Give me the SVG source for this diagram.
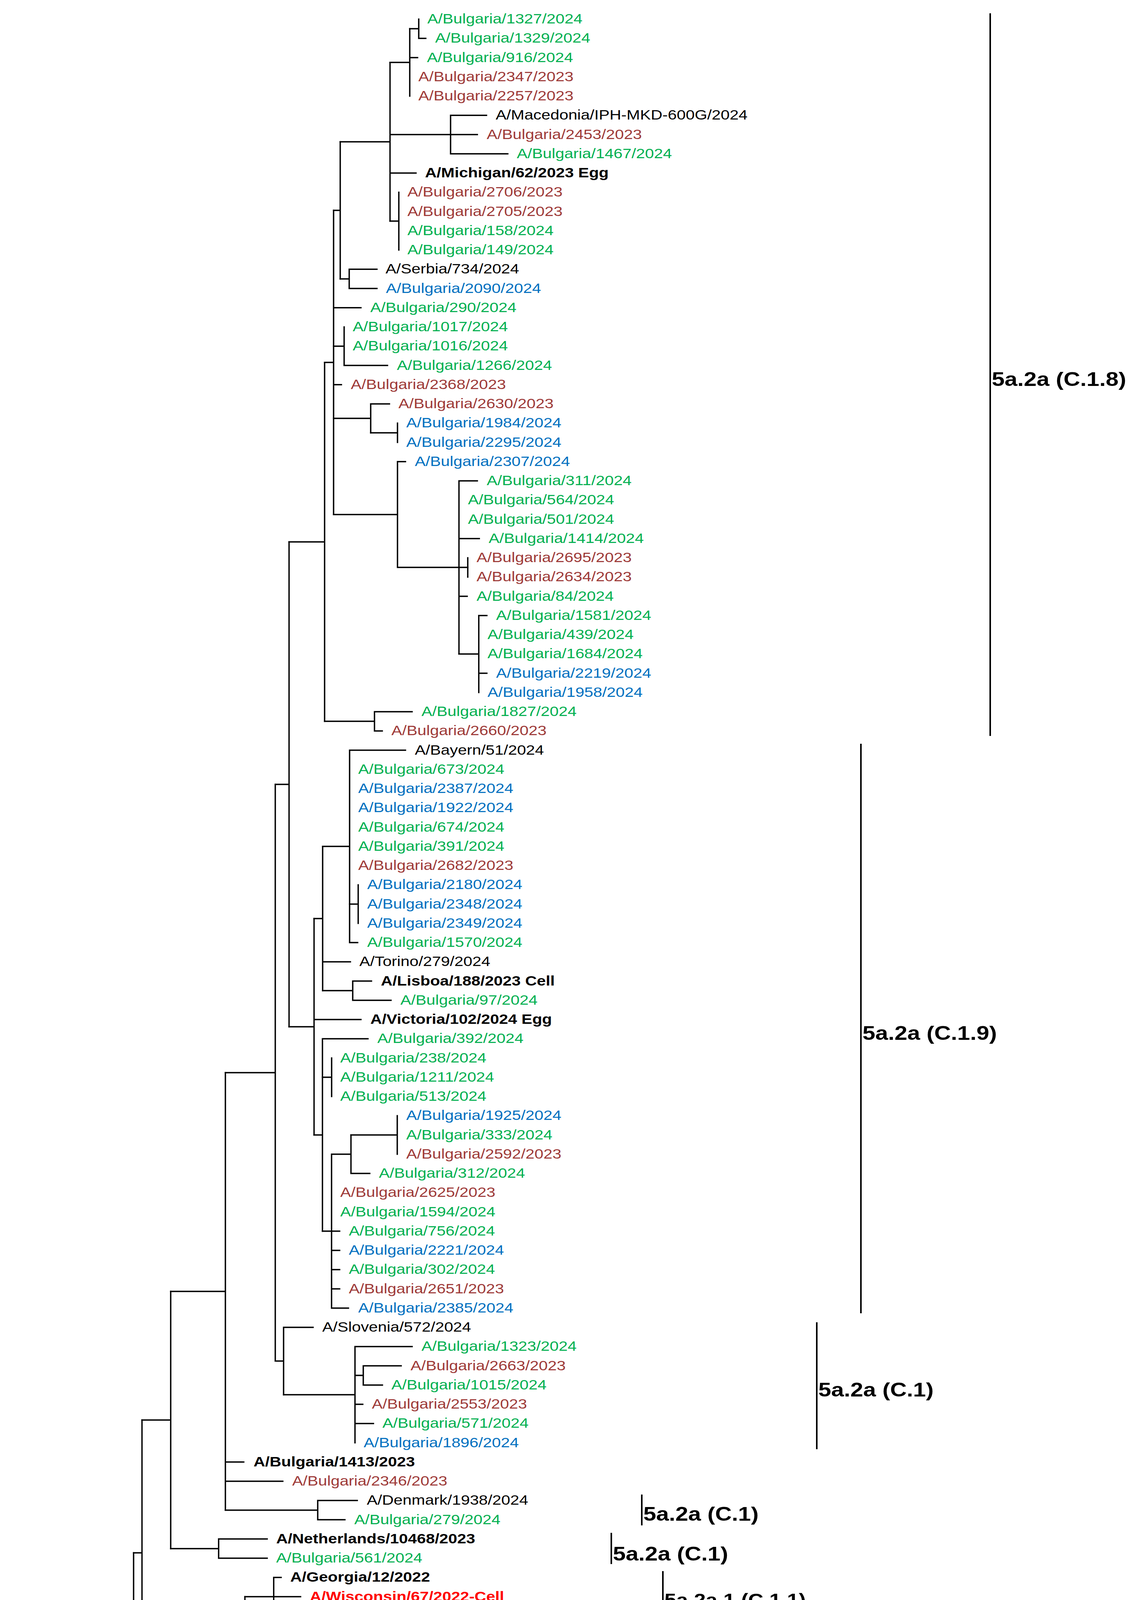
<svg xmlns="http://www.w3.org/2000/svg" width="2898" height="5612" viewBox="0 0 2898 5612">
<style>
.e{stroke:#000;stroke-width:3.5;fill:none;stroke-linecap:square}
.br{stroke:#000;stroke-width:4;fill:none}
.t{font-family:"Liberation Sans",Arial,sans-serif;font-size:35px}
.b{font-weight:bold}
.g{fill:#00B050}.r{fill:#9E3A38}.u{fill:#0070C0}.k{fill:#000}.x{fill:#FF0000}
.cl{font-family:"Liberation Sans",Arial,sans-serif;font-weight:bold;fill:#000;font-size:50px}
.cs{font-size:46px}
</style>
<rect width="2898" height="5612" fill="#fff"/>
<g id="connectors" class="e">
<path d="M1072 49V98.3M1072 98.3H1090M1049 73.6H1072"/>
<path d="M1049 73.6V246M1049 147.5H1069M998.5 159.8H1049"/>
<path d="M1153.5 295.3V393.8M1153.5 295.3H1245.5M1153.5 393.8H1300"/>
<path d="M1021 492.3V640M998.5 566.1H1021"/>
<path d="M998.5 159.8V566.1M998.5 344.5H1222M998.5 443H1065M871 363H998.5"/>
<path d="M894 689.3V738.5M894 689.3H965M894 738.5H965M871 713.9H894"/>
<path d="M871 363V713.9M854 538.4H871"/>
<path d="M881 837V935.5M881 935.5H992M854 886.3H881"/>
<path d="M1017.6 1083.3V1132.5M949 1107.9H1017.6"/>
<path d="M949 1034V1107.9M949 1034H997M854 1071H949"/>
<path d="M1197.5 1428V1477.3"/>
<path d="M1225.7 1575.8V1772.8M1225.7 1575.8H1246.4M1225.7 1723.5H1246.4M1175 1674.3H1225.7"/>
<path d="M1175 1231V1674.3M1175 1231H1222M1175 1378.8H1227M1175 1452.6H1197.5M1175 1526.5H1196"/>
<path d="M1017.6 1181.8V1452.6M1017.6 1181.8H1038M1017.6 1452.6H1175M854 1317.2H1017.6"/>
<path d="M854 538.4V1317.2M854 787.8H924M854 984.8H874M831 927.8H854"/>
<path d="M958.7 1822V1871.3M958.7 1822H1055M958.7 1871.3H978.6M831 1846.6H958.7"/>
<path d="M831 927.8V1846.6M740 1387.2H831"/>
<path d="M917 2265.3V2363.8M895 2314.5H917"/>
<path d="M895 1920.5V2413M895 1920.5H1038M895 2413H915.6M826 2166.8H895"/>
<path d="M903 2511.5V2560.8M903 2511.5H951M903 2560.8H1001M826 2536.1H903"/>
<path d="M826 2166.8V2536.1M826 2462.3H897M804 2351.4H826"/>
<path d="M849 2708.5V2807M825.5 2757.8H849"/>
<path d="M1017 2856.3V2954.8M898.5 2905.5H1017"/>
<path d="M898.5 2905.5V3004M898.5 3004H946.6M848.8 2954.8H898.5"/>
<path d="M848.8 2954.8V3348.8M848.8 3201H869.5M848.8 3250.3H869.5M848.8 3299.5H869.5M848.8 3348.8H892M825.5 3151.8H869.5"/>
<path d="M825.5 2659.3V3151.8M825.5 2659.3H942M804 2905.5H825.5"/>
<path d="M804 2351.4V2905.5M804 2610H924M740 2628.5H804"/>
<path d="M740 1387.2V2628.5M704.7 2007.9H740"/>
<path d="M930 3496.5V3545.8M930 3496.5H1027M930 3545.8H979M908.8 3521.1H930"/>
<path d="M908.8 3447.3V3693.5M908.8 3447.3H1055M908.8 3595H928.7M908.8 3644.3H956M726 3570.4H908.8"/>
<path d="M726 3398V3570.4M726 3398H801.5M704.7 3484.2H726"/>
<path d="M704.7 2007.9V3484.2M577 2746H704.7"/>
<path d="M813.4 3841.3V3890.5M813.4 3841.3H914.6M813.4 3890.5H883M577 3865.9H813.4"/>
<path d="M577 2746V3865.9M577 3742.8H624M577 3792H724M437 3306H577"/>
<path d="M559.7 3939.8V3989M559.7 3939.8H684M559.7 3989H684M437 3964.4H559.7"/>
<path d="M437 3306V3964.4M363.5 3635.2H437"/>
<path d="M700.7 4038.3V4136.8M700.7 4038.3H719.7M700.7 4136.8H747M627 4087.5H769.5"/>
<path d="M889.7 4186V4235.3M889.7 4186H960M889.7 4235.3H937.8M866.5 4210.6H889.7"/>
<path d="M866.5 4210.6V4284.5M866.5 4284.5H983.4M700.7 4247.6H866.5"/>
<path d="M804.3 4333.8V4383M804.3 4333.8H892M804.3 4383H852M772 4358.4H804.3"/>
<path d="M772 4358.4V4432.3M772 4432.3H970M700.7 4395.3H772"/>
<path d="M845 4481.5V4530.8M794 4506.1H845"/>
<path d="M794 4506.1V4580M794 4580H842.5M745.4 4543H794"/>
<path d="M745.4 4543V4629.3M745.4 4629.3H937.8M700.7 4586.1H745.4"/>
<path d="M827.5 4875.5V4924.8M827.5 4875.5H950M827.5 4924.8H923M749 4900.1H827.5"/>
<path d="M749 4777V4900.1M749 4777H873M749 4826.3H869M700.7 4838.6H749"/>
<path d="M700.7 4247.6V4838.6M700.7 4727.8H720.6M627 4543.1H700.7"/>
<path d="M627 4087.5V4543.1M363.5 4315.3H627"/>
<path d="M363.5 3635.2V4315.3M342 3975.3H363.5"/>
<path d="M342 3975.3V4974M342 4974H696.7M291.5 4474.6H342"/>
<path d="M681 5023.3V5072.5M681 5072.5H700M315 5047.9H681"/>
<path d="M832.4 5417.3V5466.5M832.4 5417.3H878.5M832.4 5466.5H927M708.8 5441.9H832.4"/>
<path d="M708.8 5368V5441.9M708.8 5368H888M672.5 5404.9H708.8"/>
<path d="M672.5 5318.8V5404.9M672.5 5318.8H838.5M482 5361.8H672.5"/>
<path d="M482 5269.5V5361.8M482 5269.5H500M361 5315.7H482"/>
<path d="M361 5171V5315.7M361 5220.3H430M336.8 5243.3H361"/>
<path d="M336.8 5121.8V5243.3M336.8 5121.8H652M315 5182.5H336.8"/>
<path d="M315 5047.9V5182.5M291.5 5115.2H315"/>
<path d="M291.5 4474.6V5115.2M24 4885H291.5"/>
<path d="M24 4885V5565M24 5515.8H48.5M24 5565H46"/>
</g>
<g id="leaves">
<g id="n1"><text class="t g" transform="translate(1094 60) scale(1.18 1)">A/Bulgaria/1327/2024</text></g>
<g id="n2"><text class="t g" transform="translate(1114 109.25) scale(1.18 1)">A/Bulgaria/1329/2024</text></g>
<g id="n3"><text class="t g" transform="translate(1093 158.5) scale(1.18 1)">A/Bulgaria/916/2024</text></g>
<g id="n4"><text class="t r" transform="translate(1071 207.75) scale(1.18 1)">A/Bulgaria/2347/2023</text></g>
<g id="n5"><text class="t r" transform="translate(1071 257) scale(1.18 1)">A/Bulgaria/2257/2023</text></g>
<g id="n6"><text class="t k" transform="translate(1269 306.25) scale(1.18 1)">A/Macedonia/IPH-MKD-600G/2024</text></g>
<g id="n7"><text class="t r" transform="translate(1246 355.5) scale(1.18 1)">A/Bulgaria/2453/2023</text></g>
<g id="n8"><text class="t g" transform="translate(1323 404.75) scale(1.18 1)">A/Bulgaria/1467/2024</text></g>
<g id="n9"><text class="t k b" transform="translate(1088 454) scale(1.18 1)">A/Michigan/62/2023 Egg</text></g>
<g id="n10"><text class="t r" transform="translate(1043 503.25) scale(1.18 1)">A/Bulgaria/2706/2023</text></g>
<g id="n11"><text class="t r" transform="translate(1043 552.5) scale(1.18 1)">A/Bulgaria/2705/2023</text></g>
<g id="n12"><text class="t g" transform="translate(1043 601.75) scale(1.18 1)">A/Bulgaria/158/2024</text></g>
<g id="n13"><text class="t g" transform="translate(1043 651) scale(1.18 1)">A/Bulgaria/149/2024</text></g>
<g id="n14"><text class="t k" transform="translate(987 700.25) scale(1.18 1)">A/Serbia/734/2024</text></g>
<g id="n15"><text class="t u" transform="translate(988 749.5) scale(1.18 1)">A/Bulgaria/2090/2024</text></g>
<g id="n16"><text class="t g" transform="translate(948 798.75) scale(1.18 1)">A/Bulgaria/290/2024</text></g>
<g id="n17"><text class="t g" transform="translate(903 848) scale(1.18 1)">A/Bulgaria/1017/2024</text></g>
<g id="n18"><text class="t g" transform="translate(903 897.25) scale(1.18 1)">A/Bulgaria/1016/2024</text></g>
<g id="n19"><text class="t g" transform="translate(1016 946.5) scale(1.18 1)">A/Bulgaria/1266/2024</text></g>
<g id="n20"><text class="t r" transform="translate(898 995.75) scale(1.18 1)">A/Bulgaria/2368/2023</text></g>
<g id="n21"><text class="t r" transform="translate(1020 1045) scale(1.18 1)">A/Bulgaria/2630/2023</text></g>
<g id="n22"><text class="t u" transform="translate(1040 1094.25) scale(1.18 1)">A/Bulgaria/1984/2024</text></g>
<g id="n23"><text class="t u" transform="translate(1040 1143.5) scale(1.18 1)">A/Bulgaria/2295/2024</text></g>
<g id="n24"><text class="t u" transform="translate(1062 1192.75) scale(1.18 1)">A/Bulgaria/2307/2024</text></g>
<g id="n25"><text class="t g" transform="translate(1246 1242) scale(1.18 1)">A/Bulgaria/311/2024</text></g>
<g id="n26"><text class="t g" transform="translate(1198 1291.25) scale(1.18 1)">A/Bulgaria/564/2024</text></g>
<g id="n27"><text class="t g" transform="translate(1198 1340.5) scale(1.18 1)">A/Bulgaria/501/2024</text></g>
<g id="n28"><text class="t g" transform="translate(1251 1389.75) scale(1.18 1)">A/Bulgaria/1414/2024</text></g>
<g id="n29"><text class="t r" transform="translate(1220 1439) scale(1.18 1)">A/Bulgaria/2695/2023</text></g>
<g id="n30"><text class="t r" transform="translate(1220 1488.25) scale(1.18 1)">A/Bulgaria/2634/2023</text></g>
<g id="n31"><text class="t g" transform="translate(1220 1537.5) scale(1.18 1)">A/Bulgaria/84/2024</text></g>
<g id="n32"><text class="t g" transform="translate(1270 1586.75) scale(1.18 1)">A/Bulgaria/1581/2024</text></g>
<g id="n33"><text class="t g" transform="translate(1248 1636) scale(1.18 1)">A/Bulgaria/439/2024</text></g>
<g id="n34"><text class="t g" transform="translate(1248 1685.25) scale(1.18 1)">A/Bulgaria/1684/2024</text></g>
<g id="n35"><text class="t u" transform="translate(1270 1734.5) scale(1.18 1)">A/Bulgaria/2219/2024</text></g>
<g id="n36"><text class="t u" transform="translate(1248 1783.75) scale(1.18 1)">A/Bulgaria/1958/2024</text></g>
<g id="n37"><text class="t g" transform="translate(1079 1833) scale(1.18 1)">A/Bulgaria/1827/2024</text></g>
<g id="n38"><text class="t r" transform="translate(1002 1882.25) scale(1.18 1)">A/Bulgaria/2660/2023</text></g>
<g id="n39"><text class="t k" transform="translate(1062 1931.5) scale(1.18 1)">A/Bayern/51/2024</text></g>
<g id="n40"><text class="t g" transform="translate(917 1980.75) scale(1.18 1)">A/Bulgaria/673/2024</text></g>
<g id="n41"><text class="t u" transform="translate(917 2030) scale(1.18 1)">A/Bulgaria/2387/2024</text></g>
<g id="n42"><text class="t u" transform="translate(917 2079.25) scale(1.18 1)">A/Bulgaria/1922/2024</text></g>
<g id="n43"><text class="t g" transform="translate(917 2128.5) scale(1.18 1)">A/Bulgaria/674/2024</text></g>
<g id="n44"><text class="t g" transform="translate(917 2177.75) scale(1.18 1)">A/Bulgaria/391/2024</text></g>
<g id="n45"><text class="t r" transform="translate(917 2227) scale(1.18 1)">A/Bulgaria/2682/2023</text></g>
<g id="n46"><text class="t u" transform="translate(940 2276.25) scale(1.18 1)">A/Bulgaria/2180/2024</text></g>
<g id="n47"><text class="t u" transform="translate(940 2325.5) scale(1.18 1)">A/Bulgaria/2348/2024</text></g>
<g id="n48"><text class="t u" transform="translate(940 2374.75) scale(1.18 1)">A/Bulgaria/2349/2024</text></g>
<g id="n49"><text class="t g" transform="translate(940 2424) scale(1.18 1)">A/Bulgaria/1570/2024</text></g>
<g id="n50"><text class="t k" transform="translate(920 2473.25) scale(1.18 1)">A/Torino/279/2024</text></g>
<g id="n51"><text class="t k b" transform="translate(975 2522.5) scale(1.18 1)">A/Lisboa/188/2023 Cell</text></g>
<g id="n52"><text class="t g" transform="translate(1025 2571.75) scale(1.18 1)">A/Bulgaria/97/2024</text></g>
<g id="n53"><text class="t k b" transform="translate(948 2621) scale(1.18 1)">A/Victoria/102/2024 Egg</text></g>
<g id="n54"><text class="t g" transform="translate(966 2670.25) scale(1.18 1)">A/Bulgaria/392/2024</text></g>
<g id="n55"><text class="t g" transform="translate(871 2719.5) scale(1.18 1)">A/Bulgaria/238/2024</text></g>
<g id="n56"><text class="t g" transform="translate(871 2768.75) scale(1.18 1)">A/Bulgaria/1211/2024</text></g>
<g id="n57"><text class="t g" transform="translate(871 2818) scale(1.18 1)">A/Bulgaria/513/2024</text></g>
<g id="n58"><text class="t u" transform="translate(1040 2867.25) scale(1.18 1)">A/Bulgaria/1925/2024</text></g>
<g id="n59"><text class="t g" transform="translate(1040 2916.5) scale(1.18 1)">A/Bulgaria/333/2024</text></g>
<g id="n60"><text class="t r" transform="translate(1040 2965.75) scale(1.18 1)">A/Bulgaria/2592/2023</text></g>
<g id="n61"><text class="t g" transform="translate(970 3015) scale(1.18 1)">A/Bulgaria/312/2024</text></g>
<g id="n62"><text class="t r" transform="translate(871 3064.25) scale(1.18 1)">A/Bulgaria/2625/2023</text></g>
<g id="n63"><text class="t g" transform="translate(871 3113.5) scale(1.18 1)">A/Bulgaria/1594/2024</text></g>
<g id="n64"><text class="t g" transform="translate(893 3162.75) scale(1.18 1)">A/Bulgaria/756/2024</text></g>
<g id="n65"><text class="t u" transform="translate(893 3212) scale(1.18 1)">A/Bulgaria/2221/2024</text></g>
<g id="n66"><text class="t g" transform="translate(893 3261.25) scale(1.18 1)">A/Bulgaria/302/2024</text></g>
<g id="n67"><text class="t r" transform="translate(893 3310.5) scale(1.18 1)">A/Bulgaria/2651/2023</text></g>
<g id="n68"><text class="t u" transform="translate(917 3359.75) scale(1.18 1)">A/Bulgaria/2385/2024</text></g>
<g id="n69"><text class="t k" transform="translate(825 3409) scale(1.18 1)">A/Slovenia/572/2024</text></g>
<g id="n70"><text class="t g" transform="translate(1079 3458.25) scale(1.18 1)">A/Bulgaria/1323/2024</text></g>
<g id="n71"><text class="t r" transform="translate(1051 3507.5) scale(1.18 1)">A/Bulgaria/2663/2023</text></g>
<g id="n72"><text class="t g" transform="translate(1002 3556.75) scale(1.18 1)">A/Bulgaria/1015/2024</text></g>
<g id="n73"><text class="t r" transform="translate(952 3606) scale(1.18 1)">A/Bulgaria/2553/2023</text></g>
<g id="n74"><text class="t g" transform="translate(979 3655.25) scale(1.18 1)">A/Bulgaria/571/2024</text></g>
<g id="n75"><text class="t u" transform="translate(931 3704.5) scale(1.18 1)">A/Bulgaria/1896/2024</text></g>
<g id="n76"><text class="t k b" transform="translate(649 3753.75) scale(1.18 1)">A/Bulgaria/1413/2023</text></g>
<g id="n77"><text class="t r" transform="translate(748 3803) scale(1.18 1)">A/Bulgaria/2346/2023</text></g>
<g id="n78"><text class="t k" transform="translate(939 3852.25) scale(1.18 1)">A/Denmark/1938/2024</text></g>
<g id="n79"><text class="t g" transform="translate(907 3901.5) scale(1.18 1)">A/Bulgaria/279/2024</text></g>
<g id="n80"><text class="t k b" transform="translate(707 3950.75) scale(1.18 1)">A/Netherlands/10468/2023</text></g>
<g id="n81"><text class="t g" transform="translate(707 4000) scale(1.18 1)">A/Bulgaria/561/2024</text></g>
<g id="n82"><text class="t k b" transform="translate(743 4049.25) scale(1.18 1)">A/Georgia/12/2022</text></g>
<g id="n83"><text class="t x b" transform="translate(793 4098.5) scale(1.18 1)">A/Wisconsin/67/2022-Cell</text></g>
<g id="n84"><text class="t k" transform="translate(771 4147.75) scale(1.18 1)">A/Norway/31694/2022</text></g>
<g id="n85"><text class="t k" transform="translate(984 4197) scale(1.18 1)">A/Bremen/19/2024</text></g>
<g id="n86"><text class="t r" transform="translate(962 4246.25) scale(1.18 1)">A/Bulgaria/2494/2023</text></g>
<g id="n87"><text class="t k" transform="translate(1007 4295.5) scale(1.18 1)">A/Catalonia/NSGT198295462/2024</text></g>
<g id="n88"><text class="t k" transform="translate(916 4344.75) scale(1.18 1)">A/Lisboa/141/2024</text></g>
<g id="n89"><text class="t g" transform="translate(875 4394) scale(1.18 1)">A/Bulgaria/575/2024</text></g>
<g id="n90"><text class="t k" transform="translate(994 4443.25) scale(1.18 1)">A/Netherlands/00901/2024</text></g>
<g id="n91"><text class="t r" transform="translate(865 4492.5) scale(1.18 1)">A/Bulgaria/2594/2023</text></g>
<g id="n92"><text class="t r" transform="translate(865 4541.75) scale(1.18 1)">A/Bulgaria/2591/2023</text></g>
<g id="n93"><text class="t k" transform="translate(865 4591) scale(1.18 1)">A/Baden-Wuerttemberg/105/2024</text></g>
<g id="n94"><text class="t k" transform="translate(962 4640.25) scale(1.18 1)">A/Norway/02293/2024</text></g>
<g id="n95"><text class="t x b" transform="translate(721 4689.5) scale(1.18 1)">A/Victoria/4897/2022 Cell</text></g>
<g id="n96"><text class="t x b" transform="translate(743 4738.75) scale(1.18 1)">A/Victoria/4897/2022 Egg</text></g>
<g id="n97"><text class="t k" transform="translate(896 4788) scale(1.18 1)">A/Stockholm/SE24-52791/2024</text></g>
<g id="n98"><text class="t k" transform="translate(892 4837.25) scale(1.18 1)">A/Germany/14718/2024</text></g>
<g id="n99"><text class="t k" transform="translate(974 4886.5) scale(1.18 1)">A/Poland/28/2024</text></g>
<g id="n100"><text class="t k" transform="translate(947 4935.75) scale(1.18 1)">A/England/241081039/2024</text></g>
<g id="n101"><text class="t k" transform="translate(722 4985) scale(1.18 1)">A/Bulgaria/234/2023</text></g>
<g id="n102"><text class="t k" transform="translate(703 5034.25) scale(1.18 1)">A/Washington/22/2023</text></g>
<g id="n103"><text class="t k" transform="translate(724 5083.5) scale(1.18 1)">A/Washington/24/2023</text></g>
<g id="n104"><text class="t k" transform="translate(676 5132.75) scale(1.18 1)">A/Maldives/936/2023</text></g>
<g id="n105"><text class="t k" transform="translate(382 5182) scale(1.18 1)">A/Sydney/5/2021 Cell</text></g>
<g id="n106"><text class="t k" transform="translate(454 5231.25) scale(1.18 1)">A/Sydney/5/2021 Egg</text></g>
<g id="n107"><text class="t k" transform="translate(524 5280.5) scale(1.18 1)">A/Sydney/175/2022</text></g>
<g id="n108"><text class="t k" transform="translate(860 5329.75) scale(1.18 1)">A/Catalonia/NSJT198292352/2024</text></g>
<g id="n109"><text class="t k" transform="translate(911 5379) scale(1.18 1)">A/France/GES-IPP03540/2024</text></g>
<g id="n110"><text class="t k" transform="translate(902 5428.25) scale(1.18 1)">A/France/ARA-HCL024031003301/2024</text></g>
<g id="n111"><text class="t k" transform="translate(953 5477.5) scale(1.18 1)">A/England/240640630/2024</text></g>
<g id="n112"><text class="t k" transform="translate(73 5526.75) scale(1.18 1)">A/Denmark/3280/2019 Cell</text></g>
<g id="n113"><text class="t k b" transform="translate(69 5576) scale(1.18 1)">A/Victoria/2570/2019 Egg</text></g>
</g>
<g id="clades">
<g id="c18"><path class="br" d="M2535 34V1884"/><text class="cl" transform="translate(2539 988) scale(1.18 1)">5a.2a (C.1.8)</text></g>
<g id="c19"><path class="br" d="M2204 1904V3362"/><text class="cl" transform="translate(2208 2662) scale(1.18 1)">5a.2a (C.1.9)</text></g>
<g id="c1a"><path class="br" d="M2091 3385V3710"/><text class="cl" transform="translate(2095 3575) scale(1.18 1)">5a.2a (C.1)</text></g>
<g id="c1b"><path class="br" d="M1643 3826V3905"/><text class="cl" transform="translate(1647 3893) scale(1.18 1)">5a.2a (C.1)</text></g>
<g id="c1c"><path class="br" d="M1565 3924V4004"/><text class="cl" transform="translate(1569 3995) scale(1.18 1)">5a.2a (C.1)</text></g>
<g id="c11"><path class="br" d="M1697 4022V4151"/><text class="cl cs" transform="translate(1701 4112) scale(1.18 1)">5a.2a.1 (C.1.1)</text></g>
<g id="d3"><path class="br" d="M1759.5 4171V4298.5"/><text class="cl cs" transform="translate(1763 4256) scale(1.18 1)">5a.2a.1 (D.3)</text></g>
<g id="d1"><path class="br" d="M1593 4318V4448"/><text class="cl cs" transform="translate(1597 4408) scale(1.18 1)">5a.2a.1 (D.1)</text></g>
<g id="d2"><path class="br" d="M1601.5 4466V4645"/><text class="cl cs" transform="translate(1605 4578) scale(1.18 1)">5a.2a.1 (D.2)</text></g>
<g id="d4"><path class="br" d="M1796 4761V4940"/><text class="cl cs" transform="translate(1800 4873) scale(1.18 1)">5a.2a.1 (D.4)</text></g>
<g id="c17"><path class="br" d="M1751 5302V5482.5"/><text class="cl" style="font-size:44px" transform="translate(1755 5415) scale(1.18 1)">C.1.7</text></g>
</g>
</svg>
